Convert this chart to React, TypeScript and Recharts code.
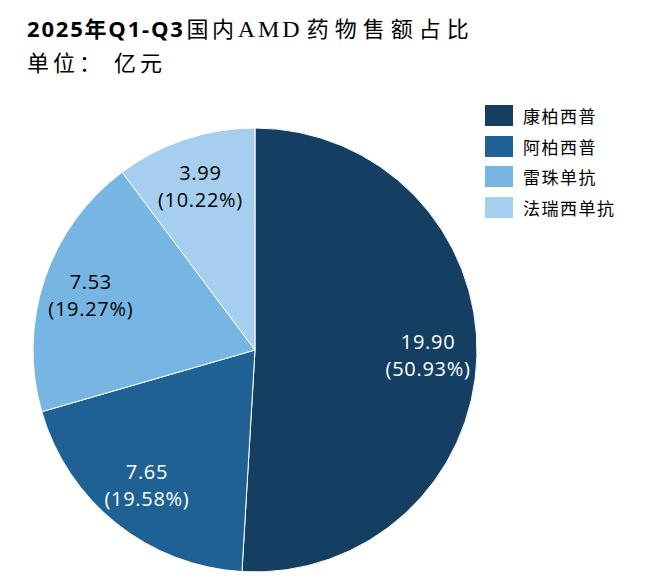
import React from 'react';
import { PieChart, Pie, Cell, Legend } from 'recharts';

const categories = ['康柏西普', '阿柏西普', '雷珠单抗', '法瑞西单抗'];
const values = [19.9, 7.65, 7.53, 3.99];
const pctLabels = ['50.93%', '19.58%', '19.27%', '10.22%'];
const colors = ['#143F62', '#1F6194', '#77B5E3', '#A6CEEE'];
const labelColors = ['#FFFFFF', '#FFFFFF', '#000000', '#000000'];

const data = categories.map((name, i) => ({ name, value: values[i] }));

const RADIAN = Math.PI / 180;

const renderLabel = (props: any) => {
  const { cx, cy, midAngle, outerRadius, index } = props;
  const r = outerRadius * 0.78;
  const x = cx + r * Math.cos(-midAngle * RADIAN);
  const y = cy + r * Math.sin(-midAngle * RADIAN);
  return (
    <text
      x={x}
      y={y}
      textAnchor="middle"
      fill={labelColors[index]}
      fontFamily="'Open Sans', 'Noto Sans', sans-serif"
      fontSize={20}
      letterSpacing={0.7}
    >
      <tspan x={x} dy={-6}>{values[index].toFixed(2)}</tspan>
      <tspan x={x} dy={27}>({pctLabels[index]})</tspan>
    </text>
  );
};

const LegendContent = () => (
  <div style={{ position: 'relative', width: 160, height: 125 }}>
    {categories.map((c, i) => (
      <div
        key={c}
        style={{ position: 'absolute', left: 0, top: i * 30.7, height: 21, display: 'flex', alignItems: 'center', whiteSpace: 'nowrap' }}
      >
        <div style={{ width: 28, height: 21, background: colors[i] }} />
        <span
          style={{
            marginLeft: 10,
            fontSize: 17,
            letterSpacing: 1.5,
            fontFamily: "'Noto Sans CJK SC', sans-serif",
            color: '#000',
            lineHeight: '21px',
          }}
        >
          {c}
        </span>
      </div>
    ))}
  </div>
);

export default function App() {
  return (
    <div style={{ position: 'absolute', left: 0, top: 0, width: 650, height: 586, background: '#fff' }}>
      <svg width={650} height={90} style={{ position: 'absolute', left: 0, top: 0 }}>
        <text x={27} y={37} fontSize={22} fill="#000">
          <tspan fontFamily="'Open Sans', sans-serif" fontWeight={700} letterSpacing={1.8}>2025</tspan>
          <tspan fontFamily="'Noto Sans CJK SC', sans-serif" fontWeight={700} letterSpacing={1.8}>年</tspan>
          <tspan fontFamily="'Open Sans', sans-serif" fontWeight={700} letterSpacing={1.8}>Q1-Q3</tspan>
          <tspan dx={2} fontFamily="'Noto Sans CJK SC', serif" letterSpacing={3.5}>国内</tspan>
          <tspan fontFamily="'Liberation Serif', serif" fontSize={24} letterSpacing={3}>AMD</tspan>
          <tspan dx={4} fontFamily="'Noto Sans CJK SC', serif" letterSpacing={6}>药物售额占比</tspan>
        </text>
        <text x={27} y={71} fontSize={22} fill="#000" letterSpacing={4} fontFamily="'Noto Sans CJK SC', serif">
          单位： 亿元
        </text>
      </svg>
      <PieChart width={650} height={586} margin={{ top: 0, right: 0, bottom: 0, left: 0 }} style={{ position: 'absolute', left: 0, top: 0 }}>
        <Pie
          data={data}
          dataKey="value"
          nameKey="name"
          cx={255}
          cy={350}
          outerRadius={222}
          startAngle={90}
          endAngle={-270}
          stroke="#FFFFFF"
          strokeWidth={1}
          label={renderLabel}
          labelLine={false}
          isAnimationActive={false}
        >
          {data.map((d, i) => (
            <Cell key={d.name} fill={colors[i]} />
          ))}
        </Pie>
        <Legend
          content={<LegendContent />}
          wrapperStyle={{ position: 'absolute', left: 485, top: 105, width: 160, height: 125 }}
        />
      </PieChart>
    </div>
  );
}
